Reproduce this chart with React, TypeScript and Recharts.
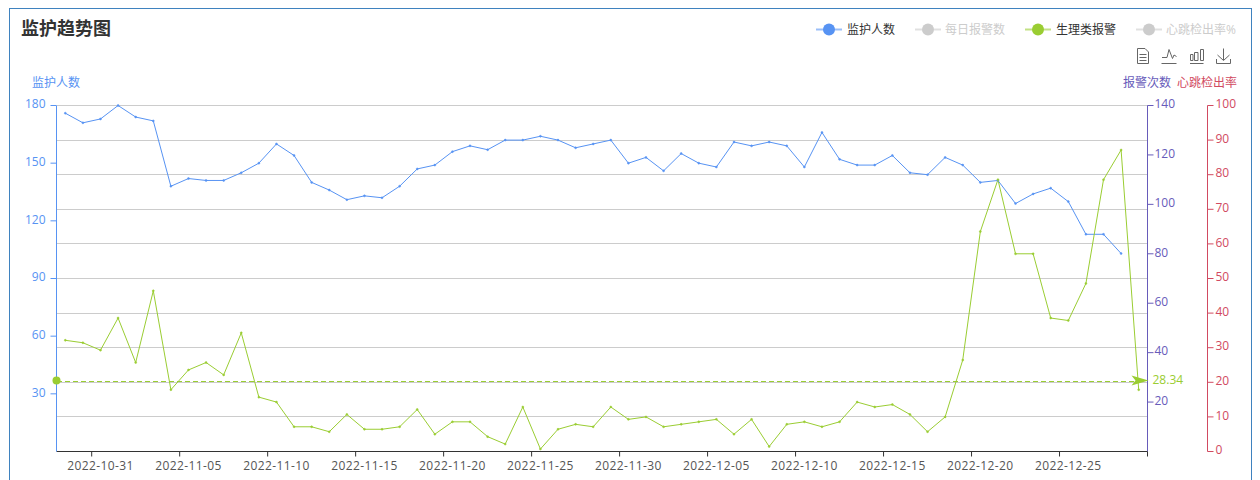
import React from "react";
import { LineChart, Line, XAxis, YAxis, CartesianGrid, ReferenceLine } from "recharts";

const dates = [
  "2022-10-29", "2022-10-30", "2022-10-31",
  "2022-11-01", "2022-11-02", "2022-11-03", "2022-11-04", "2022-11-05", "2022-11-06", "2022-11-07", "2022-11-08", "2022-11-09", "2022-11-10",
  "2022-11-11", "2022-11-12", "2022-11-13", "2022-11-14", "2022-11-15", "2022-11-16", "2022-11-17", "2022-11-18", "2022-11-19", "2022-11-20",
  "2022-11-21", "2022-11-22", "2022-11-23", "2022-11-24", "2022-11-25", "2022-11-26", "2022-11-27", "2022-11-28", "2022-11-29", "2022-11-30",
  "2022-12-01", "2022-12-02", "2022-12-03", "2022-12-04", "2022-12-05", "2022-12-06", "2022-12-07", "2022-12-08", "2022-12-09", "2022-12-10",
  "2022-12-11", "2022-12-12", "2022-12-13", "2022-12-14", "2022-12-15", "2022-12-16", "2022-12-17", "2022-12-18", "2022-12-19", "2022-12-20",
  "2022-12-21", "2022-12-22", "2022-12-23", "2022-12-24", "2022-12-25", "2022-12-26", "2022-12-27", "2022-12-28", "2022-12-29",
];

const monitored = [
  176, 171, 173, 180, 174, 172, 138, 142, 141, 141, 145, 150, 160, 154, 140, 136, 131, 133, 132, 138,
  147, 149, 156, 159, 157, 162, 162, 164, 162, 158, 160, 162, 150, 153, 146, 155, 150, 148, 161, 159,
  161, 159, 148, 166, 152, 149, 149, 154, 145, 144, 153, 149, 140, 141, 129, 134, 137, 130, 113, 113,
  103, null,
];

const physioAlarms = [
  45, 44, 41, 54, 36, 65, 25, 33, 36, 31, 48, 22, 20, 10, 10, 8, 15, 9, 9, 10,
  17, 7, 12, 12, 6, 3, 18, 1, 9, 11, 10, 18, 13, 14, 10, 11, 12, 13, 7, 13,
  2, 11, 12, 10, 12, 20, 18, 19, 15, 8, 14, 37, 89, 110, 80, 80, 54, 53, 68, 110,
  122, 25,
];

const physioAverage = 28.34;

const xTicks = [
  "2022-10-31", "2022-11-05", "2022-11-10", "2022-11-15", "2022-11-20", "2022-11-25", "2022-11-30",
  "2022-12-05", "2022-12-10", "2022-12-15", "2022-12-20", "2022-12-25", "2022-12-29",
];
const leftTicks = [30, 60, 90, 120, 150, 180];
const alarmTicks = [20, 40, 60, 80, 100, 120, 140];
const rateTicks = [0, 10, 20, 30, 40, 50, 60, 70, 80, 90, 100];

const rows = dates.map((date, i) => ({
  date,
  monitored: monitored[i],
  physio: physioAlarms[i],
}));

const BLUE = "#5793f3";
const PURPLE = "#675bba";
const RED = "#d14a61";
const GREEN = "#9acd32";
const FONT = '"Open Sans", "Noto Sans CJK SC", sans-serif';
const PLOT_WIDTH = 1091;
const BAND = PLOT_WIDTH / dates.length;

function DateTick({ x, y, payload }: any) {
  const isEnd = payload.value === dates[dates.length - 1];
  const tickX = isEnd ? x + BAND / 2 : x - BAND / 2;
  return (
    <g>
      <line x1={tickX} x2={tickX} y1={y - 8} y2={y - 3} stroke="#333" />
      {!isEnd && (
        <text x={x} y={y + 10} textAnchor="middle" fontSize={12} letterSpacing={0.4} fill="#555" fontFamily={FONT}>
          {payload.value}
        </text>
      )}
    </g>
  );
}

function AverageLine({ x1, x2, y1 }: any) {
  const left = Math.min(x1, x2);
  const right = Math.max(x1, x2);
  return (
    <g>
      <line x1={left} x2={right - 8} y1={y1} y2={y1} stroke={GREEN} strokeDasharray="5 3" shapeRendering="crispEdges" />
      <circle cx={left} cy={y1 - 1} r={4} fill={GREEN} />
      <path
        d={`M${right + 1} ${y1 - 1} L${right - 16} ${y1 - 6} L${right - 12} ${y1 - 1} L${right - 16} ${y1 + 4} Z`}
        fill={GREEN}
      />
      <text x={right + 5} y={y1 + 3} fontSize={12} fill={GREEN} fontFamily={FONT}>
        {physioAverage}
      </text>
    </g>
  );
}

const legendItems = [
  { label: "监护人数", lineX: 816, textX: 847, color: BLUE, active: true },
  { label: "每日报警数", lineX: 915, textX: 945, color: "#ccc", active: false },
  { label: "生理类报警", lineX: 1025, textX: 1056, color: GREEN, active: true },
  { label: "心跳检出率%", lineX: 1136, textX: 1166, color: "#ccc", active: false },
];

function Overlay() {
  return (
    <svg width={1260} height={480} style={{ position: "absolute", left: 0, top: 0, pointerEvents: "none" }} fontFamily={FONT}>
      <text x={21} y={35} fontSize={18} fontWeight={700} fill="#333">监护趋势图</text>
      {legendItems.map((item) => (
        <g key={item.label}>
          <line x1={item.lineX} x2={item.lineX + 26} y1={29.5} y2={29.5} stroke={item.color} strokeOpacity={0.6} strokeWidth={2} />
          <circle cx={item.lineX + 13} cy={29.5} r={6} fill={item.color} />
          <text x={item.textX} y={33.5} fontSize={12} fill={item.active ? "#333" : "#ccc"}>{item.label}</text>
        </g>
      ))}
      <g fill="none" stroke="#666">
        <path d="M1137.5 48.5 H1145 L1148.5 52 V63.5 H1137.5 Z M1139.5 54.5 H1146.5 M1139.5 57.5 H1146.5 M1139.5 60.5 H1146.5" />
        <path d="M1161.5 63.5 H1176.5 M1162 57.5 H1167 L1169 49.5 L1172.5 58.5 L1174 55 L1176.5 56.5" />
        <path d="M1190 63.5 H1203.5 M1190.5 54.5 H1193 V60.5 H1190.5 Z M1194.5 52.5 H1198 V60.5 H1194.5 Z M1200.5 49.5 H1203.5 V60.5 H1200.5 Z" />
        <path d="M1223.5 48.5 V60 M1217.5 55 L1223.5 60.5 L1229.5 55 M1216.5 59 V63.5 H1230.5 V59" />
      </g>
      <text x={32} y={87} fontSize={12} fill={BLUE}>监护人数</text>
      <text x={1123} y={87} fontSize={12} fill={PURPLE}>报警次数</text>
      <text x={1177} y={87} fontSize={12} fill={RED}>心跳检出率</text>
    </svg>
  );
}

export default function App() {
  return (
    <div style={{ position: "absolute", left: 0, top: 0, width: 1260, height: 480, overflow: "hidden", background: "#fff" }}>
      <div
        style={{
          position: "absolute",
          left: 9,
          top: 8,
          width: 1241,
          height: 472,
          border: "1px solid #3f82bf",
          borderBottom: "none",
          boxSizing: "content-box",
        }}
      />
      <div style={{ position: "absolute", left: 0, top: 0 }}>
        <LineChart
          width={1260}
          height={480}
          data={rows}
          margin={{ top: 105.5, right: 0, bottom: 0.5, left: 16.5 }}
        >
          <CartesianGrid vertical={false} stroke="#ccc" yAxisId="rate" shapeRendering="crispEdges" />
          <XAxis
            dataKey="date"
            scale="band"
            interval={0}
            ticks={xTicks}
            stroke="#333"
            tickLine={false}
            tick={<DateTick />}
            height={28}
          />
          <YAxis
            yAxisId="people"
            orientation="left"
            width={40}
            domain={[0, 180]}
            ticks={leftTicks}
            stroke={BLUE}
            tick={{ fill: BLUE, fontSize: 12, fontFamily: FONT, dy: -1.5 }}
            tickMargin={5}
          />
          <YAxis
            yAxisId="alarms"
            orientation="right"
            width={60}
            domain={[0, 140]}
            ticks={alarmTicks}
            stroke={PURPLE}
            tick={{ fill: PURPLE, fontSize: 12, fontFamily: FONT, dy: -1.5 }}
            tickMargin={1}
          />
          <YAxis
            yAxisId="rate"
            orientation="right"
            width={52.5}
            domain={[0, 100]}
            allowDataOverflow
            ticks={rateTicks}
            stroke={RED}
            tick={{ fill: RED, fontSize: 12, fontFamily: FONT, dy: -1.5 }}
            tickMargin={2}
          />
          <Line
            yAxisId="people"
            dataKey="monitored"
            stroke={BLUE}
            strokeWidth={1}
            dot={{ r: 1, fill: BLUE, stroke: BLUE, strokeWidth: 0.5 }}
            isAnimationActive={false}
          />
          <Line
            yAxisId="alarms"
            dataKey="physio"
            stroke={GREEN}
            strokeWidth={1}
            dot={{ r: 1, fill: GREEN, stroke: GREEN, strokeWidth: 0.5 }}
            isAnimationActive={false}
          />
          <ReferenceLine yAxisId="alarms" y={physioAverage} zIndex={2000} shape={<AverageLine />} />
        </LineChart>
      </div>
      <Overlay />
    </div>
  );
}
